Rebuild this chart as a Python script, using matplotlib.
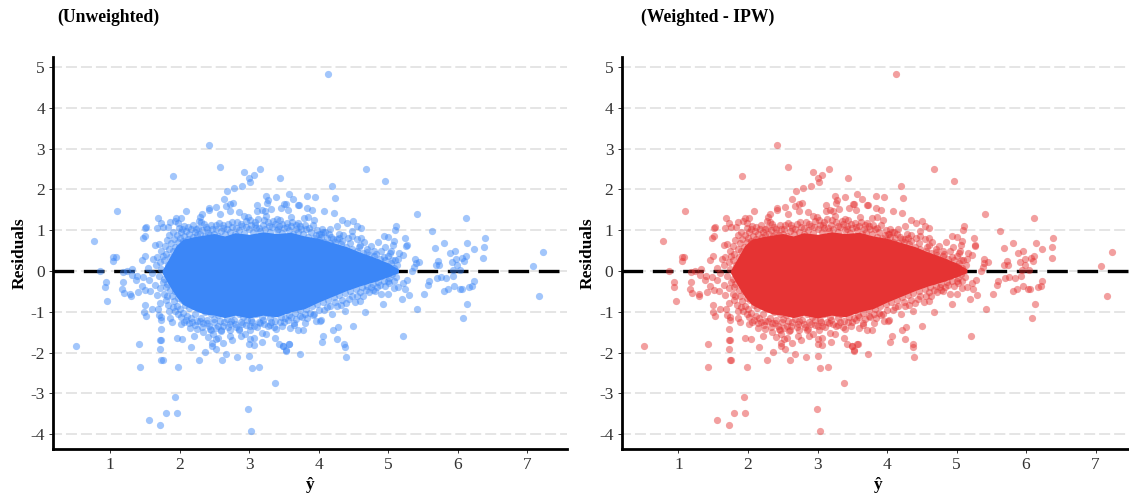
import matplotlib
matplotlib.use("Agg")
import matplotlib.pyplot as plt

plt.rcParams.update({
    "font.family": ["Liberation Serif", "DejaVu Serif"],
    "axes.unicode_minus": False,
})

# Points, by region of the plot
upper_outliers = [
    (4.13, 4.83), (2.42, 3.09), (2.58, 2.54), (1.91, 2.34), (2.93, 2.42), (3.00, 2.29), (3.07, 2.35),
    (3.02, 2.19), (3.16, 2.51), (3.44, 2.29), (2.90, 2.09), (2.79, 2.03), (2.69, 1.95), (2.64, 1.76),
    (2.67, 1.60), (2.73, 1.65), (2.77, 1.67), (2.53, 1.58), (2.42, 1.54), (2.42, 1.49), (2.09, 1.46),
    (2.32, 1.39), (2.29, 1.33), (2.28, 1.22), (2.31, 1.21), (2.58, 1.39), (2.73, 1.46), (2.86, 1.45),
    (2.93, 1.36), (2.99, 1.33), (3.12, 1.62), (3.25, 1.84), (3.28, 1.74), (3.26, 1.66), (3.12, 1.47),
    (3.18, 1.50), (3.31, 1.52), (3.23, 1.48), (3.25, 1.34), (3.39, 1.81), (3.57, 1.88), (3.64, 1.76),
    (3.51, 1.64), (3.53, 1.64), (3.46, 1.55), (3.56, 1.50), (3.71, 1.62), (3.61, 1.32), (3.40, 1.27),
    (3.44, 1.25), (3.71, 1.17), (3.09, 1.21), (4.68, 2.50), (4.96, 2.21), (4.20, 2.08), (4.23, 1.80),
    (3.84, 1.84), (3.95, 1.81), (3.72, 1.62), (3.84, 1.55), (3.91, 1.49), (4.08, 1.46), (4.22, 1.42),
    (3.85, 1.33), (3.79, 1.30), (3.94, 1.25), (4.34, 1.26), (4.41, 1.18), (4.50, 1.22), (4.26, 1.10),
    (4.55, 1.10), (4.61, 1.05), (4.16, 1.03), (4.48, 0.99), (4.07, 0.96), (4.01, 0.90), (4.29, 0.91),
    (4.35, 0.88), (4.48, 0.85), (4.21, 0.78), (4.61, 0.82),
]
left_tail = [
    (1.69, 1.29), (1.73, 1.18), (1.67, 1.05), (1.76, 1.08), (1.83, 1.09), (1.86, 1.21), (1.95, 1.30),
    (2.02, 1.29), (1.93, 1.22), (1.98, 1.18), (1.99, 1.05), (2.06, 1.10), (1.52, 1.08), (1.51, 1.05),
    (1.10, 1.47), (0.77, 0.73), (1.48, 0.82), (1.51, 0.87), (1.05, 0.35), (1.08, 0.35), (1.05, 0.24),
    (1.46, 0.27), (1.50, 0.37), (1.65, 0.64), (1.70, 0.67), (0.86, 0.00), (1.24, 0.00), (1.18, -0.02),
    (1.32, 0.04), (1.62, 0.29), (1.67, 0.35), (1.85, 0.88), (1.90, 0.95), (0.51, -1.84), (0.96, -0.74),
    (0.94, -0.26), (0.93, -0.38), (1.18, -0.26), (1.17, -0.45), (1.20, -0.53), (1.29, -0.56), (1.30, -0.61),
    (1.46, -0.37), (1.41, -0.51), (1.51, -0.47), (1.58, -0.49), (1.38, -0.22), (1.31, -0.10), (1.39, -0.12),
    (1.48, -0.14), (1.56, -0.22), (1.65, -0.34), (1.67, -0.59), (1.72, -0.79), (1.50, -0.83), (1.49, -1.00),
    (1.52, -1.11), (1.60, -0.93), (1.69, -0.94), (1.70, -1.07), (1.55, 0.08), (1.60, -0.04), (1.66, 0.14),
    (1.72, 0.22), (1.74, 0.06), (1.70, -0.12), (1.76, -0.26), (1.72, -0.42), (1.78, -0.55), (1.80, -0.38),
    (1.76, 0.36), (1.74, 0.50), (1.79, 0.62), (1.82, 0.76), (1.80, -0.70), (1.84, -0.82), (1.82, -0.60),
]
lower_outliers = [
    (1.42, -1.79), (1.43, -2.35), (1.73, -1.41), (1.72, -1.68), (1.74, -1.68), (1.72, -1.90), (1.74, -2.19),
    (1.76, -2.18), (1.96, -1.64), (2.04, -1.67), (2.16, -1.87), (2.36, -1.99), (2.28, -2.18), (1.98, -2.35),
    (1.94, -3.08), (1.96, -3.48), (1.80, -3.48), (1.56, -3.65), (1.72, -3.78), (2.99, -3.37), (3.03, -3.93),
    (3.38, -2.74), (3.15, -2.34), (3.04, -2.38), (3.00, -2.08), (2.83, -2.11), (2.61, -2.19), (2.67, -2.03),
    (2.53, -1.91), (2.47, -1.84), (2.47, -1.77), (2.52, -1.67), (2.56, -1.64), (2.63, -1.76), (2.76, -1.70),
    (2.72, -1.59), (2.73, -1.45), (2.60, -1.45), (2.88, -1.59), (2.94, -1.53), (2.85, -1.45), (3.02, -1.45),
    (3.01, -1.67), (3.07, -1.65), (3.07, -1.81), (3.00, -1.79), (3.19, -1.74), (3.18, -1.51), (3.25, -1.53),
    (3.30, -1.32), (3.39, -1.42), (3.38, -1.63), (3.43, -1.79), (3.49, -1.83), (3.53, -1.94), (3.58, -1.79),
    (3.65, -1.32), (2.21, -1.59), (2.34, -1.49), (2.15, -1.40), (2.25, -1.43), (2.41, -1.61), (2.46, -1.45),
    (2.48, -1.53), (2.02, -1.30), (2.06, -1.25), (1.89, -1.24), (1.86, -1.14), (1.74, -1.20), (1.74, -1.13),
    (1.85, -0.98), (4.21, -1.45), (4.07, -1.59), (4.05, -1.73), (4.26, -1.67), (4.37, -1.78), (4.38, -1.86),
    (4.39, -2.11), (3.73, -2.04), (3.57, -1.79), (3.49, -1.84), (3.53, -1.95), (3.71, -1.45), (3.78, -1.44),
    (3.59, -1.39), (3.65, -1.28), (3.81, -1.27), (3.96, -1.22), (4.02, -1.22), (3.92, -1.08), (3.74, -1.10),
    (3.81, -1.04), (3.52, -1.14), (5.21, -1.58), (4.67, -1.01), (4.60, -0.73), (4.53, -0.75), (4.40, -0.78),
    (4.26, -0.85), (4.38, -0.98), (4.20, -1.04), (4.03, -1.21), (3.94, -1.05), (4.50, -1.34), (4.28, -1.37),
]
right_tail = [
    (5.41, 1.40), (5.63, 0.99), (5.11, 1.10), (5.10, 1.00), (4.94, 0.86), (5.00, 0.83), (5.08, 0.74),
    (5.07, 0.64), (5.25, 0.80), (5.27, 0.65), (5.26, 0.61), (5.68, 0.57), (5.81, 0.69), (6.12, 1.31),
    (6.39, 0.80), (6.14, 0.69), (6.23, 0.55), (6.38, 0.60), (6.37, 0.33), (5.89, 0.44), (5.96, 0.48),
    (6.12, 0.38), (6.07, 0.32), (5.98, 0.29), (5.92, 0.23), (6.10, 0.25), (5.72, 0.25), (5.69, 0.15),
    (5.74, 0.15), (5.99, 0.15), (6.04, 0.02), (5.94, 0.02), (7.23, 0.47), (7.08, 0.12), (7.17, -0.60),
    (5.39, 0.29), (5.45, 0.22), (5.40, 0.20), (5.38, 0.09), (5.35, 0.01), (5.22, 0.39), (5.16, 0.44),
    (5.03, 0.44), (5.13, 0.15), (5.70, -0.18), (5.76, -0.15), (5.84, -0.16), (5.93, -0.12), (5.59, -0.25),
    (5.58, -0.35), (5.52, -0.57), (5.81, -0.49), (5.87, -0.45), (5.95, -0.36), (6.06, -0.44), (6.03, -0.45),
    (6.17, -0.38), (6.21, -0.36), (6.23, -0.24), (6.13, -0.80), (6.08, -1.16), (5.42, -0.92), (5.20, -0.69),
    (5.30, -0.59), (5.24, -0.43), (5.28, -0.22), (5.22, -0.29), (5.15, -0.39), (5.08, -0.42), (5.00, -0.56),
    (4.93, -0.80), (4.81, -0.50),
]
# Edge of the dense cloud, above and below
cloud_top = [
    (1.78, 0.28), (1.80, 0.42), (1.83, 0.15), (1.85, 0.55), (1.87, 0.34), (1.88, 0.68), (1.90, 0.48),
    (1.92, 0.79), (1.94, 0.60), (1.96, 0.88), (1.98, 0.70), (2.00, 0.82), (2.02, 0.95), (2.05, 0.74),
    (2.07, 0.87), (2.10, 0.98), (2.12, 0.78), (2.14, 0.92), (2.17, 1.02), (2.20, 0.84), (2.22, 0.96),
    (2.25, 0.88), (2.27, 1.06), (2.30, 0.92), (2.33, 1.00), (2.36, 0.86), (2.38, 1.08), (2.41, 0.94),
    (2.44, 0.88), (2.47, 1.02), (2.50, 0.92), (2.53, 1.12), (2.56, 0.86), (2.60, 0.98), (2.63, 1.06),
    (2.66, 0.90), (2.70, 1.16), (2.73, 0.96), (2.76, 1.08), (2.80, 0.92), (2.83, 1.20), (2.86, 1.00),
    (2.90, 1.10), (2.93, 0.94), (2.96, 1.22), (3.00, 1.02), (3.03, 1.12), (3.06, 0.96), (3.10, 1.06),
    (3.13, 1.28), (3.16, 0.98), (3.20, 1.14), (3.23, 1.02), (3.27, 1.20), (3.30, 0.96), (3.33, 1.08),
    (3.37, 1.16), (3.40, 1.00), (3.43, 1.10), (3.47, 0.94), (3.50, 1.06), (3.54, 1.18), (3.57, 1.00),
    (3.60, 1.10), (3.64, 0.92), (3.67, 1.04), (3.70, 0.96), (3.74, 1.10), (3.78, 0.90), (3.82, 1.02),
    (3.85, 0.84), (3.89, 0.96), (3.93, 0.80), (3.97, 0.88), (4.00, 0.76), (4.04, 0.84), (4.08, 0.72),
    (4.12, 0.80), (4.16, 0.68), (4.20, 0.62), (4.24, 0.72), (4.28, 0.56), (4.32, 0.66), (4.36, 0.50),
    (4.40, 0.60), (4.44, 0.46), (4.48, 0.54), (4.52, 0.40), (4.56, 0.50), (4.60, 0.36), (4.64, 0.44),
    (4.68, 0.30), (4.72, 0.40), (4.76, 0.26), (4.80, 0.36), (4.84, 0.22), (4.88, 0.30), (4.92, 0.16),
    (4.96, 0.26), (5.00, 0.12), (5.04, 0.20), (5.08, 0.08), (4.70, 0.55), (4.75, 0.62), (4.80, 0.50),
    (4.85, 0.70), (4.90, 0.48), (4.95, 0.60), (5.00, 0.38), (5.05, 0.50), (5.10, 0.28), (5.15, 0.30),
    (4.60, 0.65), (4.65, 0.72), (4.55, 0.78), (4.42, 0.80), (4.30, 0.82), (4.15, 0.90), (4.05, 1.02),
    (2.04, 1.02), (2.12, 1.08), (2.19, 1.14), (2.24, 1.03), (2.35, 1.15), (2.40, 1.04), (2.46, 1.12),
    (2.52, 1.02), (2.57, 1.18), (2.62, 1.12), (2.68, 1.04), (2.75, 1.20), (2.81, 1.06), (2.88, 1.16),
    (2.95, 1.08), (3.02, 1.24), (3.08, 1.12), (3.15, 1.06), (3.21, 1.24), (3.29, 1.10), (3.35, 1.22),
    (3.42, 1.04), (3.48, 1.16), (3.55, 1.08), (3.62, 1.20), (3.68, 1.12), (3.75, 1.04), (3.80, 1.14),
    (3.86, 1.06), (3.92, 1.12), (3.98, 1.00), (4.03, 0.92), (4.10, 0.96), (4.18, 0.84), (4.26, 0.78),
    (4.34, 0.74), (4.46, 0.68), (4.58, 0.58), (4.70, 0.46), (4.82, 0.42), (4.94, 0.34), (5.06, 0.26),
]
cloud_bottom = [
    (1.78, -0.20), (1.82, -0.32), (1.85, -0.16), (1.87, -0.46), (1.89, -0.62), (1.92, -0.74), (1.94, -0.50),
    (1.96, -0.86), (1.98, -0.66), (2.00, -0.94), (2.03, -0.72), (2.05, -1.02), (2.08, -0.84), (2.11, -1.10),
    (2.13, -0.90), (2.16, -1.16), (2.19, -0.80), (2.22, -1.06), (2.25, -1.22), (2.28, -0.92), (2.31, -1.14),
    (2.34, -1.28), (2.37, -1.00), (2.40, -1.20), (2.43, -1.34), (2.46, -1.04), (2.49, -1.26), (2.52, -1.40),
    (2.55, -1.08), (2.58, -1.22), (2.62, -1.34), (2.65, -1.02), (2.68, -1.18), (2.72, -1.30), (2.75, -1.06),
    (2.78, -1.20), (2.82, -1.36), (2.85, -1.04), (2.88, -1.24), (2.92, -1.12), (2.96, -1.32), (2.99, -1.02),
    (3.03, -1.20), (3.07, -1.34), (3.10, -1.06), (3.14, -1.24), (3.18, -1.12), (3.22, -1.30), (3.26, -1.02),
    (3.30, -1.16), (3.34, -1.04), (3.38, -1.22), (3.42, -0.98), (3.46, -1.12), (3.50, -1.26), (3.54, -0.96),
    (3.58, -1.08), (3.62, -0.88), (3.66, -1.02), (3.70, -0.84), (3.74, -0.96), (3.78, -0.78), (3.82, -0.92),
    (3.86, -0.72), (3.90, -0.86), (3.94, -0.68), (3.98, -0.80), (4.02, -0.62), (4.06, -0.76), (4.10, -0.58),
    (4.14, -0.70), (4.18, -0.52), (4.22, -0.64), (4.26, -0.46), (4.30, -0.58), (4.34, -0.42), (4.38, -0.54),
    (4.42, -0.36), (4.46, -0.50), (4.50, -0.32), (4.54, -0.44), (4.58, -0.28), (4.62, -0.40), (4.66, -0.24),
    (4.70, -0.36), (4.74, -0.20), (4.78, -0.32), (4.82, -0.16), (4.86, -0.28), (4.90, -0.12), (4.94, -0.24),
    (4.98, -0.08), (5.02, -0.18), (5.06, -0.06), (4.72, -0.52), (4.78, -0.46), (4.84, -0.40), (4.90, -0.56),
    (4.96, -0.36), (5.02, -0.30), (5.08, -0.24), (5.12, -0.14), (4.64, -0.60), (4.56, -0.62), (4.44, -0.68),
    (4.34, -0.72), (4.12, -0.88), (4.00, -0.96), (3.88, -1.02), (2.18, -1.24), (2.23, -1.32), (2.29, -1.22),
    (2.33, -1.38), (2.39, -1.28), (2.44, -1.42), (2.50, -1.18), (2.56, -1.34), (2.59, -1.46), (2.64, -1.26),
    (2.70, -1.38), (2.74, -1.22), (2.80, -1.30), (2.86, -1.42), (2.90, -1.30), (2.97, -1.20), (3.01, -1.34),
    (3.05, -1.26), (3.11, -1.38), (3.16, -1.28), (3.20, -1.20), (3.27, -1.34), (3.32, -1.26), (3.36, -1.36),
    (3.44, -1.24), (3.48, -1.34), (3.56, -1.20), (3.60, -1.12), (3.68, -1.18), (3.76, -1.12), (3.84, -1.14),
    (4.08, -0.96), (4.16, -0.86), (4.24, -0.76), (4.32, -0.84), (4.48, -0.60), (4.60, -0.52), (4.68, -0.46),
    (4.76, -0.40), (4.88, -0.34), (5.00, -0.24), (1.90, -0.88), (1.93, -0.98), (1.98, -1.06), (2.02, -1.12),
    (2.09, -1.20), (2.14, -1.28),
]
# Thousands of overplotted points merge into a solid mass here: its outline
core_x = [1.75, 1.85, 1.95, 2.05, 2.2, 2.35, 2.5, 2.65, 2.8, 3.0, 3.2, 3.4, 3.6, 3.8, 4.0, 4.2, 4.4, 4.6, 4.8, 5.0, 5.15]
core_hi = [0.02, 0.32, 0.62, 0.78, 0.84, 0.88, 0.92, 0.86, 0.94, 0.90, 0.96, 0.92, 0.95, 0.86, 0.80, 0.70, 0.60, 0.46, 0.34, 0.20, 0.05]
core_lo = [-0.05, -0.35, -0.62, -0.82, -0.95, -1.05, -1.08, -1.14, -1.08, -1.15, -1.08, -1.12, -1.00, -0.92, -0.76, -0.62, -0.48, -0.36, -0.26, -0.14, -0.04]

x_ticks = [1, 2, 3, 4, 5, 6, 7]
y_ticks = [-4, -3, -2, -1, 0, 1, 2, 3, 4, 5]

all_points = upper_outliers + left_tail + lower_outliers + right_tail + cloud_top + cloud_bottom
fitted = [p[0] for p in all_points]
residuals = [p[1] for p in all_points]

W, H = 1129, 496


def draw_panel(left_px, color, title, title_px):
    ax = fig.add_axes([left_px / W, (H - 449) / H, 514 / W, 392 / H])
    ax.set_xlim(0.18, 7.575)
    ax.set_ylim(-4.36, 5.245)

    for v in y_ticks:
        ax.axhline(v, color='#dedede', lw=1.1, linestyle=(1.3, (7.2, 2.6)), zorder=0)
    ax.axhline(0, color='black', lw=2.4, linestyle=(0, (6.2, 2.9)), zorder=1)

    ax.fill_between(core_x, core_lo, core_hi, color=color, lw=0, zorder=2)
    ax.scatter(fitted, residuals, s=27, color=color, alpha=0.47, linewidths=0, zorder=3)

    ax.set_xticks(x_ticks)
    ax.set_yticks(y_ticks)
    ax.tick_params(labelsize=12.5, length=2.6, width=0.7, color='#333333', labelcolor='#333333')
    ax.tick_params(axis='x', pad=3.5)
    ax.tick_params(axis='y', pad=3.2)
    for side in ['top', 'right']:
        ax.spines[side].set_visible(False)
    for side in ['left', 'bottom']:
        ax.spines[side].set_linewidth(2.0)
    ax.set_xlabel('ŷ', fontsize=12.5, fontweight='bold', labelpad=2.5)
    ax.set_ylabel('Residuals', fontsize=12.5, fontweight='bold', labelpad=2)
    fig.text(title_px / W, 1 - 17 / H, title, fontsize=12.7, fontweight='bold', va='center', ha='left')


fig = plt.figure(figsize=(W / 100, H / 100), dpi=100)
draw_panel(53, '#3B86F7', '(Unweighted)', 57)
draw_panel(621.5, '#E53333', '(Weighted - IPW)', 641)
fig.savefig('out.png', dpi=100)
